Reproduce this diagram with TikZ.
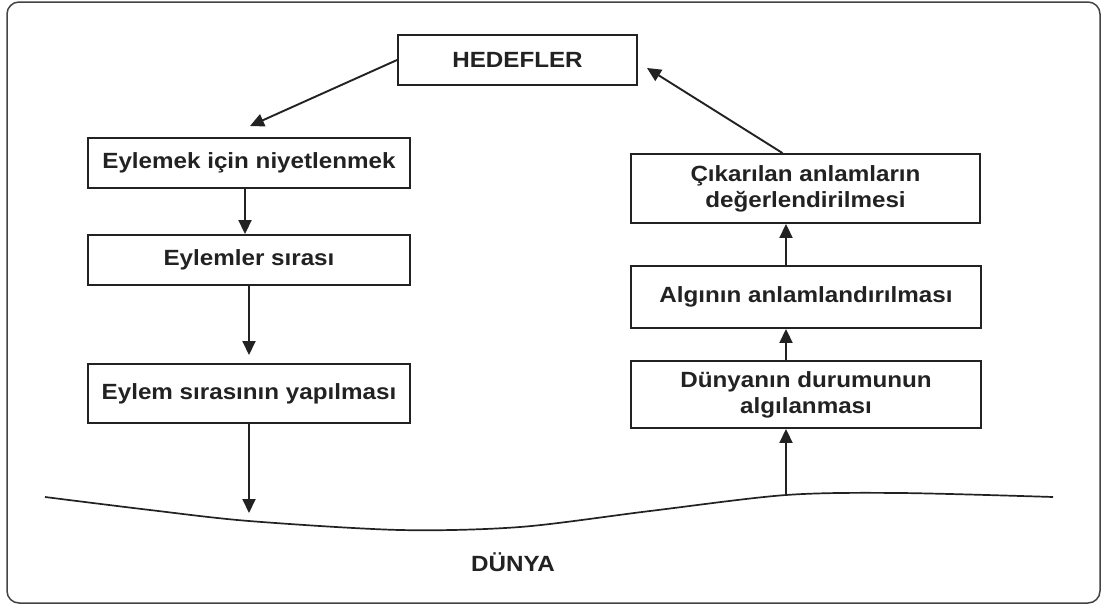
\documentclass[tikz,border=0pt]{standalone}
\usepackage{fontspec}
\setmainfont{Liberation Sans}[FakeStretch=1.1]
\usetikzlibrary{arrows.meta}
\definecolor{ink}{HTML}{222222}
\begin{document}
\begin{tikzpicture}[x=1pt,y=-1pt,
  every node/.style={font=\fontsize{22}{26}\selectfont\bfseries, text=ink},
  box/.style={draw=ink, line width=1.9pt, fill=white, inner sep=0pt, align=center},
  flow/.style={draw=ink, line width=1.9pt, -{Triangle[length=14pt,width=13pt]}},
  ground/.style={draw=ink, line width=1.7pt}]
  % canvas and outer frame
  \fill[white] (0,0) rectangle (1103,608);
  \useasboundingbox (0,0) rectangle (1103,608);
  \draw[ink!85, line width=1.5pt, rounded corners=12pt] (7,2) rectangle (1100,603);

  % goals
  \node[box, minimum width=239pt, minimum height=50pt] (hed) at (517.5,60) {HEDEFLER};

  % execution side
  \node[box, minimum width=322pt, minimum height=50pt] (l1) at (249,163) {Eylemek için niyetlenmek};
  \node[box, minimum width=322pt, minimum height=50pt] (l2) at (249,260) {Eylemler sırası};
  \node[box, minimum width=322pt, minimum height=59pt] (l3) at (249,393.5) {Eylem sırasının yapılması};

  % evaluation side
  \node[box, minimum width=349pt, minimum height=69pt] (r1) at (805.5,188.5) {Çıkarılan anlamların\\değerlendirilmesi};
  \node[box, minimum width=350pt, minimum height=62pt] (r2) at (806,297) {Algının anlamlandırılması};
  \node[box, minimum width=350pt, minimum height=67pt] (r3) at (806,394.5) {Dünyanın durumunun\\algılanması};

  % the world
  \draw[ground] plot[smooth, tension=0.5] coordinates
    {(45,497) (150,510) (249,521) (400,530) (520,527) (650,511) (786,495) (900,493) (1053,497)};
  \node (dunya) at (513,562) {DÜNYA};

  % free ends of connectors
  \coordinate (t1) at (250,126);
  \coordinate (t2) at (249,355);
  \coordinate (t3) at (249,513);
  \coordinate (g1) at (786,495);
  \coordinate (t4) at (647,68);

  % connectors
  \draw[flow] (hed.west) -- (t1);
  \draw[flow] ([xshift=-4pt]l1.south) -- ([xshift=-4pt]l2.north);
  \draw[flow] (l2.south) -- (t2);
  \draw[flow] (l3.south) -- (t3);
  \draw[flow] (g1) -- (r3.south -| g1);
  \draw[flow] (r3.north -| g1) -- (r2.south -| g1);
  \draw[flow] (r2.north -| g1) -- (r1.south -| g1);
  \draw[flow] ([xshift=-23pt]r1.north) -- (t4);
\end{tikzpicture}
\end{document}
